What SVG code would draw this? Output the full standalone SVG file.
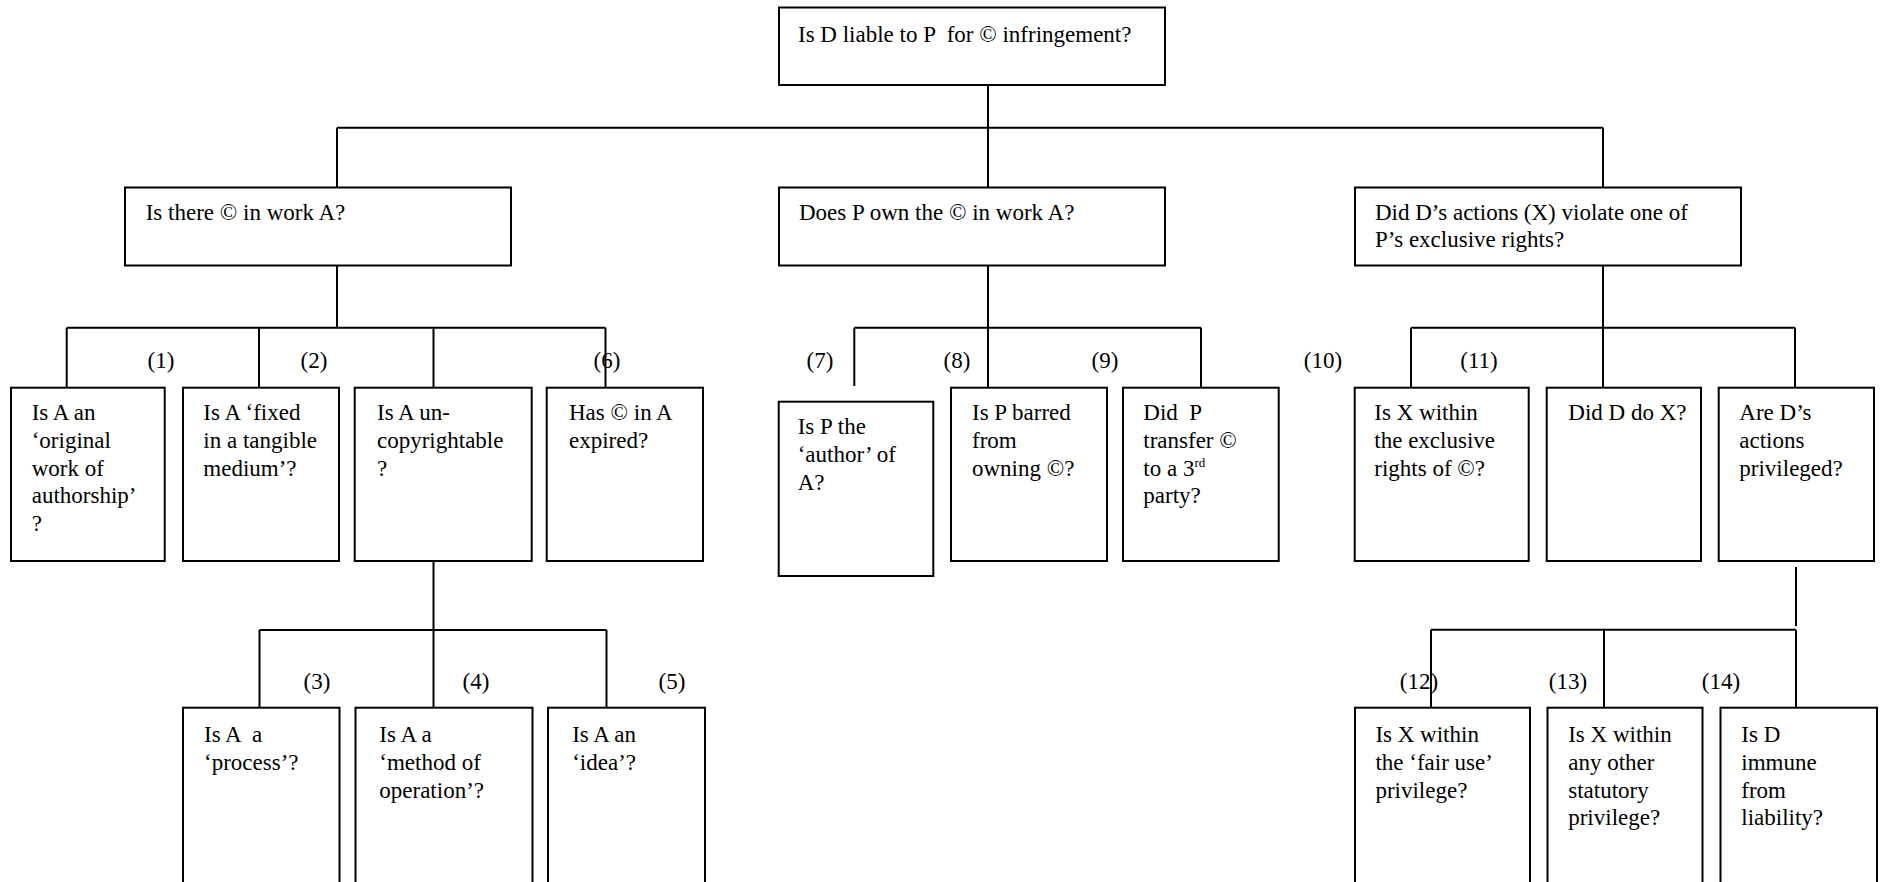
<svg xmlns="http://www.w3.org/2000/svg" width="1881" height="882" viewBox="0 0 1881 882">
<style>
  .box { fill: #ffffff; stroke: #000000; stroke-width: 2; }
  .ln { fill: none; stroke: #000000; stroke-width: 2; }
  text { font-family: "Liberation Serif", "Times New Roman", serif; font-size: 23px; fill: #000000; white-space: pre; }
  .lbl { text-anchor: middle; }
  .sup { font-size: 13px; }
</style>
<rect x="0" y="0" width="1881" height="882" fill="#ffffff"/>

<g id="connectors">
  <!-- top level -->
  <path class="ln" d="M988 85 V187.5 M337 127.7 H1603 M337 127.7 V187.5 M1603 127.7 V187.5"/>
  <!-- left branch -->
  <path class="ln" d="M337 265.5 V327.7 M66.7 327.7 H605.5 M66.7 327.7 V387.7 M259 327.7 V387.7 M433.5 327.7 V387.7 M605.5 327.7 V387.7"/>
  <!-- left lower branch -->
  <path class="ln" d="M433.5 561 V630 M259.5 630 H606.5 M259.5 630 V707.7 M433.5 630 V707.7 M606.5 630 V707.7"/>
  <!-- middle branch -->
  <path class="ln" d="M988 265.5 V387.7 M854.3 327.7 H1201 M854.3 327.7 V386 M1201 327.7 V387.7"/>
  <!-- right branch -->
  <path class="ln" d="M1603 265.5 V387.7 M1411 327.7 H1795 M1411 327.7 V387.7 M1795 327.7 V387.7"/>
  <!-- right lower branch -->
  <path class="ln" d="M1796 567 V626 M1431 629.7 H1796 M1431 629.7 V707.7 M1604 629.7 V707.7 M1796 629.7 V707.7"/>
</g>

<g id="labels">
  <text class="lbl" x="161" y="368">(1)</text>
  <text class="lbl" x="314" y="368">(2)</text>
  <text class="lbl" x="607" y="368">(6)</text>
  <text class="lbl" x="820" y="368">(7)</text>
  <text class="lbl" x="957" y="368">(8)</text>
  <text class="lbl" x="1105" y="368">(9)</text>
  <text class="lbl" x="1323" y="368">(10)</text>
  <text class="lbl" x="1479" y="368">(11)</text>
  <text class="lbl" x="317" y="689">(3)</text>
  <text class="lbl" x="476" y="689">(4)</text>
  <text class="lbl" x="672" y="689">(5)</text>
  <text class="lbl" x="1419" y="689">(12)</text>
  <text class="lbl" x="1568" y="689">(13)</text>
  <text class="lbl" x="1721" y="689">(14)</text>
</g>

<g id="n-root">
  <rect class="box" x="779" y="7.5" width="386" height="77.5"/>
  <text x="798" y="41.7">Is D liable to P  for © infringement?</text>
</g>

<g id="n-copyright">
  <rect class="box" x="125" y="187.5" width="386" height="78"/>
  <text x="145.7" y="220">Is there © in work A?</text>
</g>

<g id="n-own">
  <rect class="box" x="779" y="187.5" width="386" height="78"/>
  <text x="799" y="220">Does P own the © in work A?</text>
</g>

<g id="n-violate">
  <rect class="box" x="1355" y="187.5" width="386" height="78"/>
  <text x="1375" y="220">Did D’s actions (X) violate one of</text>
  <text x="1375" y="247.3">P’s exclusive rights?</text>
</g>

<g id="n1">
  <rect class="box" x="11" y="387.7" width="153.7" height="173.3"/>
  <text x="31.7" y="420">Is A an</text>
  <text x="31.7" y="447.8">‘original</text>
  <text x="31.7" y="475.6">work of</text>
  <text x="31.7" y="503.4">authorship’</text>
  <text x="31.7" y="531.2">?</text>
</g>

<g id="n2">
  <rect class="box" x="183" y="387.7" width="156" height="173.3"/>
  <text x="203.3" y="420">Is A ‘fixed</text>
  <text x="203.3" y="447.8">in a tangible</text>
  <text x="203.3" y="475.6">medium’?</text>
</g>

<g id="n-uncopy">
  <rect class="box" x="354.7" y="387.7" width="177" height="173.3"/>
  <text x="377" y="420">Is A un-</text>
  <text x="377" y="447.8">copyrightable</text>
  <text x="377" y="475.6">?</text>
</g>

<g id="n6">
  <rect class="box" x="546.7" y="387.7" width="156.3" height="173.3"/>
  <text x="569" y="420">Has © in A</text>
  <text x="569" y="447.8">expired?</text>
</g>

<g id="n7">
  <rect class="box" x="778.7" y="401.7" width="154.6" height="174.3"/>
  <text x="797.7" y="434">Is P the</text>
  <text x="797.7" y="461.8">‘author’ of</text>
  <text x="797.7" y="489.6">A?</text>
</g>

<g id="n8">
  <rect class="box" x="951" y="387.7" width="156" height="173.3"/>
  <text x="972" y="420">Is P barred</text>
  <text x="972" y="447.8">from</text>
  <text x="972" y="475.6">owning ©?</text>
</g>

<g id="n9">
  <rect class="box" x="1123" y="387.7" width="155.7" height="173.3"/>
  <text x="1143.3" y="420">Did  P</text>
  <text x="1143.3" y="447.8">transfer ©</text>
  <text x="1143.3" y="475.6">to a 3<tspan class="sup" dy="-9">rd</tspan></text>
  <text x="1143.3" y="503.4">party?</text>
</g>

<g id="n11">
  <rect class="box" x="1354.7" y="387.7" width="174" height="173.3"/>
  <text x="1374.3" y="420">Is X within</text>
  <text x="1374.3" y="447.8">the exclusive</text>
  <text x="1374.3" y="475.6">rights of ©?</text>
</g>

<g id="n-did">
  <rect class="box" x="1546.7" y="387.7" width="154.3" height="173.3"/>
  <text x="1568.3" y="420">Did D do X?</text>
</g>

<g id="n-priv">
  <rect class="box" x="1718.7" y="387.7" width="155.3" height="173.3"/>
  <text x="1739.3" y="420">Are D’s</text>
  <text x="1739.3" y="447.8">actions</text>
  <text x="1739.3" y="475.6">privileged?</text>
</g>

<g id="n3">
  <rect class="box" x="183" y="707.7" width="156.5" height="200"/>
  <text x="204" y="742">Is A  a</text>
  <text x="204" y="769.8">‘process’?</text>
</g>

<g id="n4">
  <rect class="box" x="355.5" y="707.7" width="177" height="200"/>
  <text x="379.3" y="742">Is A a</text>
  <text x="379.3" y="769.8">‘method of</text>
  <text x="379.3" y="797.6">operation’?</text>
</g>

<g id="n5">
  <rect class="box" x="548" y="707.7" width="157" height="200"/>
  <text x="572.2" y="742">Is A an</text>
  <text x="572.2" y="769.8">‘idea’?</text>
</g>

<g id="n12">
  <rect class="box" x="1355" y="707.7" width="175" height="200"/>
  <text x="1375.4" y="742">Is X within</text>
  <text x="1375.4" y="769.8">the ‘fair use’</text>
  <text x="1375.4" y="797.6">privilege?</text>
</g>

<g id="n13">
  <rect class="box" x="1547.5" y="707.7" width="155" height="200"/>
  <text x="1568.2" y="742">Is X within</text>
  <text x="1568.2" y="769.8">any other</text>
  <text x="1568.2" y="797.6">statutory</text>
  <text x="1568.2" y="825.4">privilege?</text>
</g>

<g id="n14">
  <rect class="box" x="1720.5" y="707.7" width="156.5" height="200"/>
  <text x="1741.3" y="742">Is D</text>
  <text x="1741.3" y="769.8">immune</text>
  <text x="1741.3" y="797.6">from</text>
  <text x="1741.3" y="825.4">liability?</text>
</g>
</svg>
